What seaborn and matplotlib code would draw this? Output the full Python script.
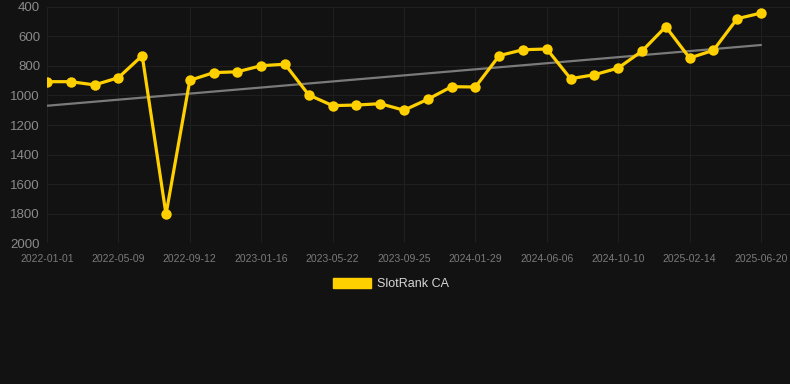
import numpy as np
import pandas as pd
import matplotlib
matplotlib.use('Agg')
import matplotlib.pyplot as plt
from matplotlib.patches import Patch
import seaborn as sns

dates = ['2022-01-01', '2022-02-12', '2022-03-26', '2022-05-09', '2022-06-20', '2022-08-01',
         '2022-09-12', '2022-10-24', '2022-12-05', '2023-01-16', '2023-02-27', '2023-04-10',
         '2023-05-22', '2023-07-03', '2023-08-14', '2023-09-25', '2023-11-06', '2023-12-18',
         '2024-01-29', '2024-03-11', '2024-04-23', '2024-06-06', '2024-07-18', '2024-08-29',
         '2024-10-10', '2024-11-21', '2025-01-02', '2025-02-14', '2025-03-28', '2025-05-09',
         '2025-06-20']
ranks = [907, 907, 929, 880, 731, 1804, 898, 846, 840, 799, 789, 997,
         1069, 1065, 1056, 1100, 1026, 941, 943, 731, 691, 686, 887, 860,
         815, 700, 535, 747, 695, 481, 443]
series_name = 'SlotRank CA'

bg = '#121212'
yellow = '#FFD000'

df = pd.DataFrame({'idx': np.arange(len(dates)), 'date': dates, 'rank': ranks})

sns.set_style('dark')
plt.rcParams['font.family'] = ['Liberation Sans', 'DejaVu Sans']

fig = plt.figure(figsize=(7.9, 3.84), dpi=100, facecolor=bg)
ax = fig.add_axes([47 / 790, (384 - 243.3) / 384, (790 - 47) / 790, (243.3 - 6.7) / 384])
ax.set_facecolor(bg)

# linear trend through the ranks
slope, intercept = np.polyfit(df['idx'], df['rank'], 1)
ax.plot([0, len(dates) - 1], [intercept, intercept + slope * (len(dates) - 1)],
        color='#7a7a7a', lw=1.6, zorder=2)

sns.lineplot(data=df, x='idx', y='rank', ax=ax, color=yellow, lw=2.3,
             marker='o', markersize=7.5, markeredgewidth=0, zorder=3, legend=False)

ax.set_xlim(0, (790 - 47) / ((761 - 47) / 30))
ax.set_ylim(2000, 400)
ax.set_yticks(range(400, 2001, 200))
ax.set_xticks(df['idx'][::3])
ax.set_xticklabels(df['date'][::3])

ax.grid(True, color='#1f1f1f', lw=0.8)
for s in ax.spines.values():
    s.set_visible(False)
ax.tick_params(axis='y', colors='#8a8a8a', labelsize=9.5, length=0, pad=5)
ax.tick_params(axis='x', colors='#7a7a7a', labelsize=7.5, length=0, pad=8)
ax.set_xlabel('')
ax.set_ylabel('')

fig.legend(handles=[Patch(facecolor=yellow, edgecolor=yellow)], labels=[series_name],
           loc='center', bbox_to_anchor=(391 / 790, 1 - 284 / 384), frameon=False,
           handlelength=3.0, handleheight=0.8, handletextpad=0.5,
           labelcolor='#d6d6d6', fontsize=9)

fig.savefig('out.png', dpi=100, facecolor=bg)
